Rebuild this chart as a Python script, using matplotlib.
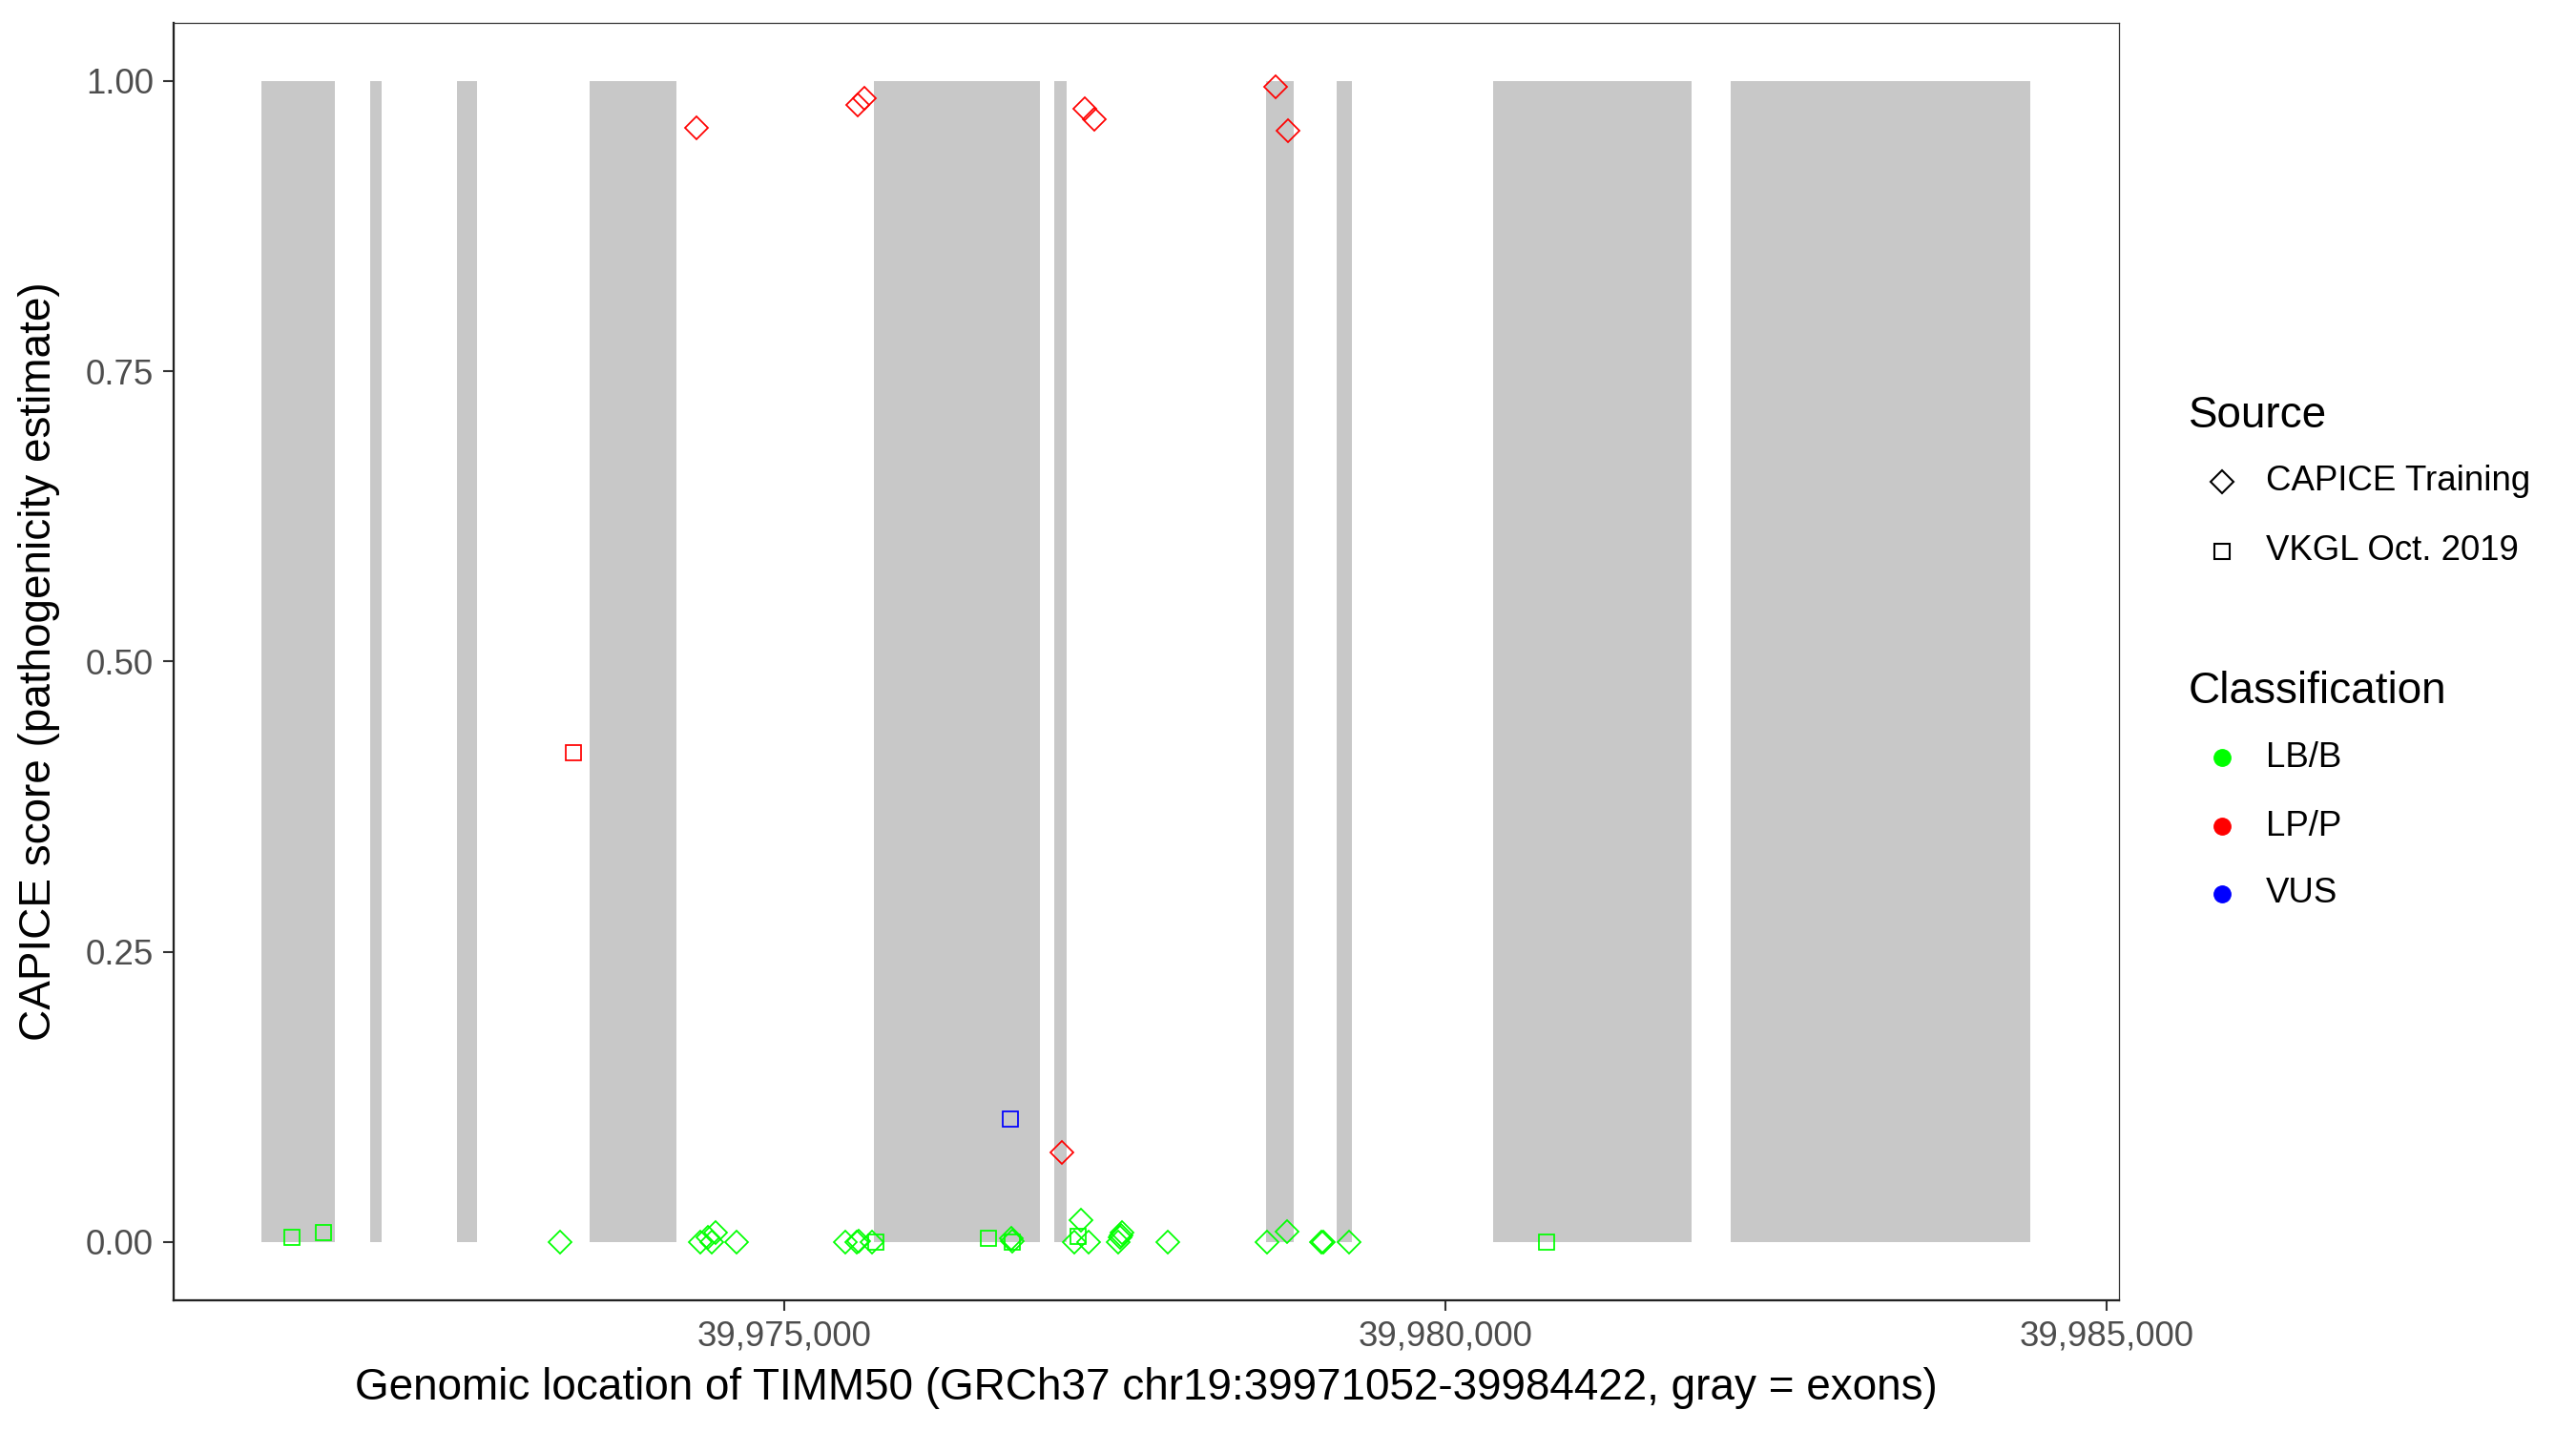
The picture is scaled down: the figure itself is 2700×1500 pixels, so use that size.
import matplotlib
matplotlib.use("Agg")
import matplotlib.pyplot as plt
from matplotlib.lines import Line2D
from matplotlib.ticker import FixedLocator, FuncFormatter

plt.rcParams['font.family'] = ['Liberation Sans', 'DejaVu Sans']

# ---------------- data ----------------
exon_start = [39971052, 39971872, 39972528, 39973528, 39975682, 39977042,
              39978645, 39979180, 39980359, 39982155]
exon_end = [39971607, 39971958, 39972677, 39974190, 39976932, 39977136,
            39978855, 39979290, 39981863, 39984422]

# CAPICE Training (diamonds)
cap_pos = [39974341, 39975558, 39975611, 39977277, 39977346, 39978717, 39978807, 39977102,
           39973307, 39974370, 39974425, 39974456, 39974485, 39974644,
           39975467, 39975552, 39975565, 39975668, 39976722, 39976729,
           39977192, 39977248, 39977305, 39977526, 39977538, 39977548, 39977557,
           39977900, 39978649, 39978800, 39979060, 39979075, 39979268]
cap_score = [0.960, 0.979, 0.985, 0.976, 0.967, 0.995, 0.957, 0.077,
             0.0, 0.0, 0.004, 0.0, 0.008, 0.0,
             0.0, 0.0, 0.001, 0.0, 0.003, 0.001,
             0.0, 0.019, 0.0, 0.0, 0.004, 0.006, 0.008,
             0.0, 0.0, 0.009, 0.0, 0.0, 0.0]
cap_class = ['LP/P'] * 8 + ['LB/B'] * 25

# VKGL Oct. 2019 (squares)
vkgl_pos = [39971281, 39971521, 39975697, 39976547, 39976729, 39977221, 39980761,
            39973410, 39976714]
vkgl_score = [0.0036, 0.0077, 0.0, 0.0028, 0.0, 0.005, 0.0,
              0.421, 0.106]
vkgl_class = ['LB/B'] * 7 + ['LP/P', 'VUS']

class_names = ['LB/B', 'LP/P', 'VUS']
class_colors = {'LB/B': '#00FF00', 'LP/P': '#FF0000', 'VUS': '#0000FF'}
source_names = ['CAPICE Training', 'VKGL Oct. 2019']

x_ticks = [39975000, 39980000, 39985000]
y_ticks = [0.0, 0.25, 0.50, 0.75, 1.00]

x_title = 'Genomic location of TIMM50 (GRCh37 chr19:39971052-39984422, gray = exons)'
y_title = 'CAPICE score (pathogenicity estimate)'

# ---------------- figure ----------------
W, H = 2700, 1500
fig = plt.figure(figsize=(9, 5), dpi=300)
ax_l, ax_r, ax_t, ax_b = 181.5, 2221.0, 24.0, 1362.7
ax = fig.add_axes([ax_l / W, 1 - ax_b / H, (ax_r - ax_l) / W, (ax_b - ax_t) / H])

# exons
ax.bar([s for s in exon_start], [1.0] * len(exon_start),
       width=[e - s for s, e in zip(exon_start, exon_end)],
       bottom=0, align='edge', color='#C8C8C8', linewidth=0, zorder=1)

ms = 4.0
mew = 0.42
for cls in class_names:
    xs = [p for p, c in zip(cap_pos, cap_class) if c == cls]
    ys = [s for s, c in zip(cap_score, cap_class) if c == cls]
    if xs:
        ax.plot(xs, ys, linestyle='none', marker='D', ms=ms, mfc='none',
                mec=class_colors[cls], mew=mew, zorder=3)
    xs = [p for p, c in zip(vkgl_pos, vkgl_class) if c == cls]
    ys = [s for s, c in zip(vkgl_score, vkgl_class) if c == cls]
    if xs:
        ax.plot(xs, ys, linestyle='none', marker='s', ms=ms, mfc='none',
                mec=class_colors[cls], mew=mew, zorder=3)

lo, hi = min(exon_start), max(exon_end)
span = hi - lo
ax.set_xlim(lo - 0.05 * span, hi + 0.05 * span)
ax.set_ylim(-0.05, 1.05)

ax.xaxis.set_major_locator(FixedLocator(x_ticks))
ax.yaxis.set_major_locator(FixedLocator(y_ticks))
ax.xaxis.set_major_formatter(FuncFormatter(lambda v, p: f'{int(round(v)):,}'))
ax.yaxis.set_major_formatter(FuncFormatter(lambda v, p: f'{v:.2f}'))
ax.tick_params(axis='both', length=2.75, width=0.5, color='#333333',
               labelsize=8.8, labelcolor='#4D4D4D', pad=2.2)

for side in ['left', 'bottom']:
    ax.spines[side].set_linewidth(0.55)
    ax.spines[side].set_color('#222222')
for side in ['top', 'right']:
    ax.spines[side].set_linewidth(0.3)
    ax.spines[side].set_color('#333333')

fig.text((ax_l + ax_r) / 2 / W, 1 - 1455 / H, x_title, ha='center', va='center',
         fontsize=11, color='black')
fig.text(41 / W, 1 - (ax_t + ax_b) / 2 / H, y_title, ha='center', va='center',
         rotation=90, fontsize=11, color='black')

# ---------------- legend ----------------
leg_title_x = 2294 / W
key_x = 2329 / W
lab_x = 2375 / W

fig.text(leg_title_x, 1 - 436 / H, 'Source', ha='left', va='center', fontsize=11)
for name, mk, yy in zip(source_names, ['D', 's'], [505.0, 577.5]):
    fig.add_artist(Line2D([key_x], [1 - yy / H], transform=fig.transFigure,
                          linestyle='none', marker=mk, ms=ms, mfc='none',
                          mec='black', mew=0.5))
    fig.text(lab_x, 1 - yy / H, name, ha='left', va='center', fontsize=8.8)

fig.text(leg_title_x, 1 - 725 / H, 'Classification', ha='left', va='center', fontsize=11)
for name, yy in zip(class_names, [794.0, 866.0, 937.0]):
    fig.add_artist(Line2D([key_x], [1 - yy / H], transform=fig.transFigure,
                          linestyle='none', marker='o', ms=4.2,
                          mfc=class_colors[name], mec=class_colors[name], mew=0.3))
    fig.text(lab_x, 1 - yy / H, name, ha='left', va='center', fontsize=8.8)

fig.savefig('out.png', dpi=300, facecolor='white')
